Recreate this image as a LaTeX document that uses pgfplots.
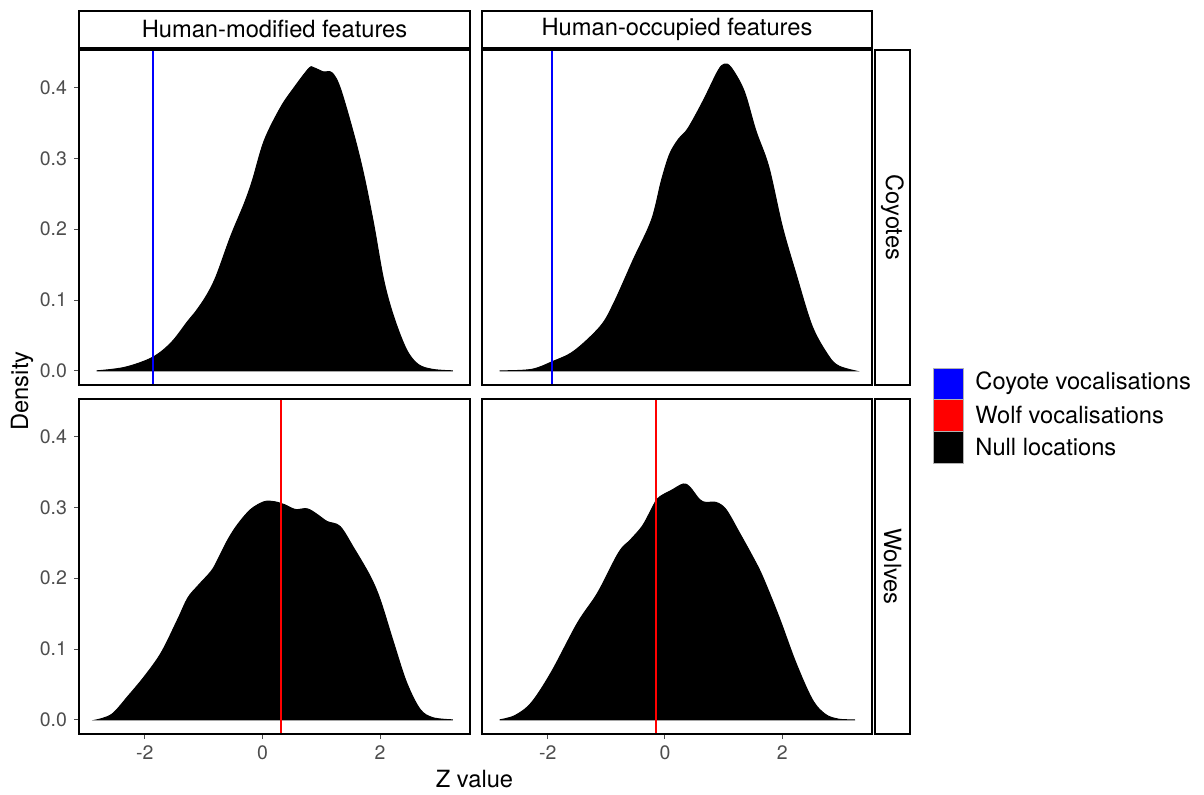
\documentclass[border=0pt]{standalone}
\usepackage{fontspec}
\setmainfont{TeX Gyre Heros}
\usepackage{pgfplots}
\pgfplotsset{compat=1.18}
\definecolor{tickgrey}{HTML}{4D4D4D}

\pgfplotsset{
  panel/.style={
    scale only axis, anchor=south west,
    width=195.5pt, height=167.5pt,
    xmin=-3.12, xmax=3.53, ymin=-0.02, ymax=0.453,
    axis line style={line width=1pt},
    tick align=outside, major tick length=2.5pt,
    tick style={tickgrey, line width=0.5pt},
    xtick pos=bottom, ytick pos=left,
    xtick={-2,0,2}, ytick={0,0.1,0.2,0.3,0.4},
    /pgf/number format/assume math mode=true,
    ticklabel style={font=\fontsize{9.75}{11}\selectfont, text=tickgrey},
    yticklabel style={/pgf/number format/.cd, fixed, fixed zerofill, precision=1},
    axis on top,
  },
  dens/.style={fill=black, draw=black, line width=0.5pt, smooth, tension=0.55},
}

\begin{document}
\begin{tikzpicture}[x=1pt,y=1pt]
\useasboundingbox (0,0) rectangle (602,397);

% top-left: coyotes, human-modified
\begin{axis}[panel, at={(39.5pt,204.5pt)}, xticklabels={}, xtick=\empty]
\addplot[dens] coordinates {
(-2.82,0) (-2.34,0.005) (-1.87,0.019) (-1.55,0.04) (-1.27,0.07) (-1.15,0.082)
(-0.96,0.105) (-0.79,0.133) (-0.54,0.19) (-0.31,0.236) (-0.17,0.269) (0.03,0.325)
(0.31,0.372) (0.54,0.40) (0.79,0.427) (0.87,0.428) (1.04,0.422) (1.18,0.421)
(1.32,0.40) (1.55,0.335) (1.72,0.278) (1.89,0.208) (2.06,0.129) (2.23,0.077)
(2.45,0.030) (2.65,0.009) (2.90,0.002) (3.24,0)
} \closedcycle;
\addplot[blue, line width=1pt] coordinates {(-1.87,-0.1) (-1.87,0.6)};
\end{axis}

% top-right: coyotes, human-occupied
\begin{axis}[panel, at={(241pt,204.5pt)}, width=195pt, xtick=\empty, ytick=\empty]
\addplot[dens] coordinates {
(-2.82,0) (-2.28,0.002) (-1.92,0.013) (-1.55,0.028) (-1.10,0.063) (-0.87,0.096)
(-0.54,0.157) (-0.23,0.213) (-0.06,0.269) (0.08,0.306) (0.23,0.327) (0.39,0.342)
(0.65,0.381) (0.90,0.423) (1.01,0.433) (1.13,0.428) (1.35,0.395) (1.55,0.339)
(1.77,0.288) (2.0,0.204) (2.23,0.138) (2.51,0.063) (2.79,0.021) (2.96,0.007) (3.24,0)
} \closedcycle;
\addplot[blue, line width=1pt] coordinates {(-1.92,-0.1) (-1.92,0.6)};
\end{axis}

% bottom-left: wolves, human-modified
\begin{axis}[panel, at={(39.5pt,30pt)}]
\addplot[dens] coordinates {
(-2.82,0) (-2.56,0.008) (-2.28,0.034) (-2.0,0.062) (-1.72,0.095) (-1.44,0.142)
(-1.27,0.172) (-1.10,0.189) (-0.87,0.21) (-0.76,0.226) (-0.59,0.254) (-0.42,0.276)
(-0.20,0.297) (0.03,0.308) (0.20,0.308) (0.37,0.304) (0.56,0.297) (0.76,0.298)
(0.93,0.29) (1.10,0.28) (1.32,0.273) (1.55,0.243) (1.83,0.203) (2.0,0.17)
(2.23,0.109) (2.45,0.053) (2.68,0.015) (2.90,0.003) (3.24,0)
} \closedcycle;
\addplot[red, line width=1pt] coordinates {(0.31,-0.1) (0.31,0.6)};
\end{axis}

% bottom-right: wolves, human-occupied
\begin{axis}[panel, at={(241pt,30pt)}, width=195pt, ytick=\empty]
\addplot[dens] coordinates {
(-2.82,0) (-2.56,0.006) (-2.28,0.024) (-1.94,0.067) (-1.49,0.137) (-1.15,0.179)
(-0.79,0.236) (-0.59,0.254) (-0.39,0.273) (-0.25,0.294) (-0.14,0.311) (-0.03,0.318)
(0.11,0.324) (0.31,0.333) (0.42,0.329) (0.59,0.311) (0.70,0.307) (0.87,0.307)
(1.04,0.297) (1.27,0.264) (1.49,0.231) (1.66,0.203) (1.94,0.146) (2.23,0.081)
(2.51,0.029) (2.73,0.008) (2.96,0.001) (3.24,0)
} \closedcycle;
\addplot[red, line width=1pt] coordinates {(-0.16,-0.1) (-0.16,0.6)};
\end{axis}

% facet strips
\tikzset{strip/.style={draw=black, line width=0.6pt, fill=white}}
\def\stripfont{\fontsize{11.85}{13}\selectfont}
\draw[strip] (39.5,373) rectangle (235,391.5);
\node[font=\stripfont] at (137.25,382.25) {Human-modified features};
\draw[strip] (241,373) rectangle (436,391.5);
\node[font=\stripfont] at (338.5,382.25) {Human-occupied features};
\draw[strip] (437.5,204.5) rectangle (455,372);
\node[font=\stripfont, rotate=-90] at (446.25,288.25) {Coyotes};
\draw[strip] (437.5,30) rectangle (455,197.5);
\node[font=\stripfont, rotate=-90] at (446.25,113.75) {Wolves};

% axis titles
\node[font=\stripfont, rotate=90] at (11,201.5) {Density};
\node[font=\stripfont] at (237.25,7.5) {Z value};

% legend
\draw[draw=gray!60, line width=0.4pt, fill=blue] (466.5,197.5) rectangle (481.5,213);
\draw[draw=gray!60, line width=0.4pt, fill=red] (466.5,181.5) rectangle (481.5,197.5);
\draw[draw=gray!60, line width=0.4pt, fill=black] (466.5,165.5) rectangle (481.5,181.5);
\node[font=\stripfont, anchor=west, inner sep=0pt] at (487.5,205.25) {Coyote vocalisations};
\node[font=\stripfont, anchor=west, inner sep=0pt] at (487.5,189.5) {Wolf vocalisations};
\node[font=\stripfont, anchor=west, inner sep=0pt] at (487.5,173.5) {Null locations};
\end{tikzpicture}
\end{document}
